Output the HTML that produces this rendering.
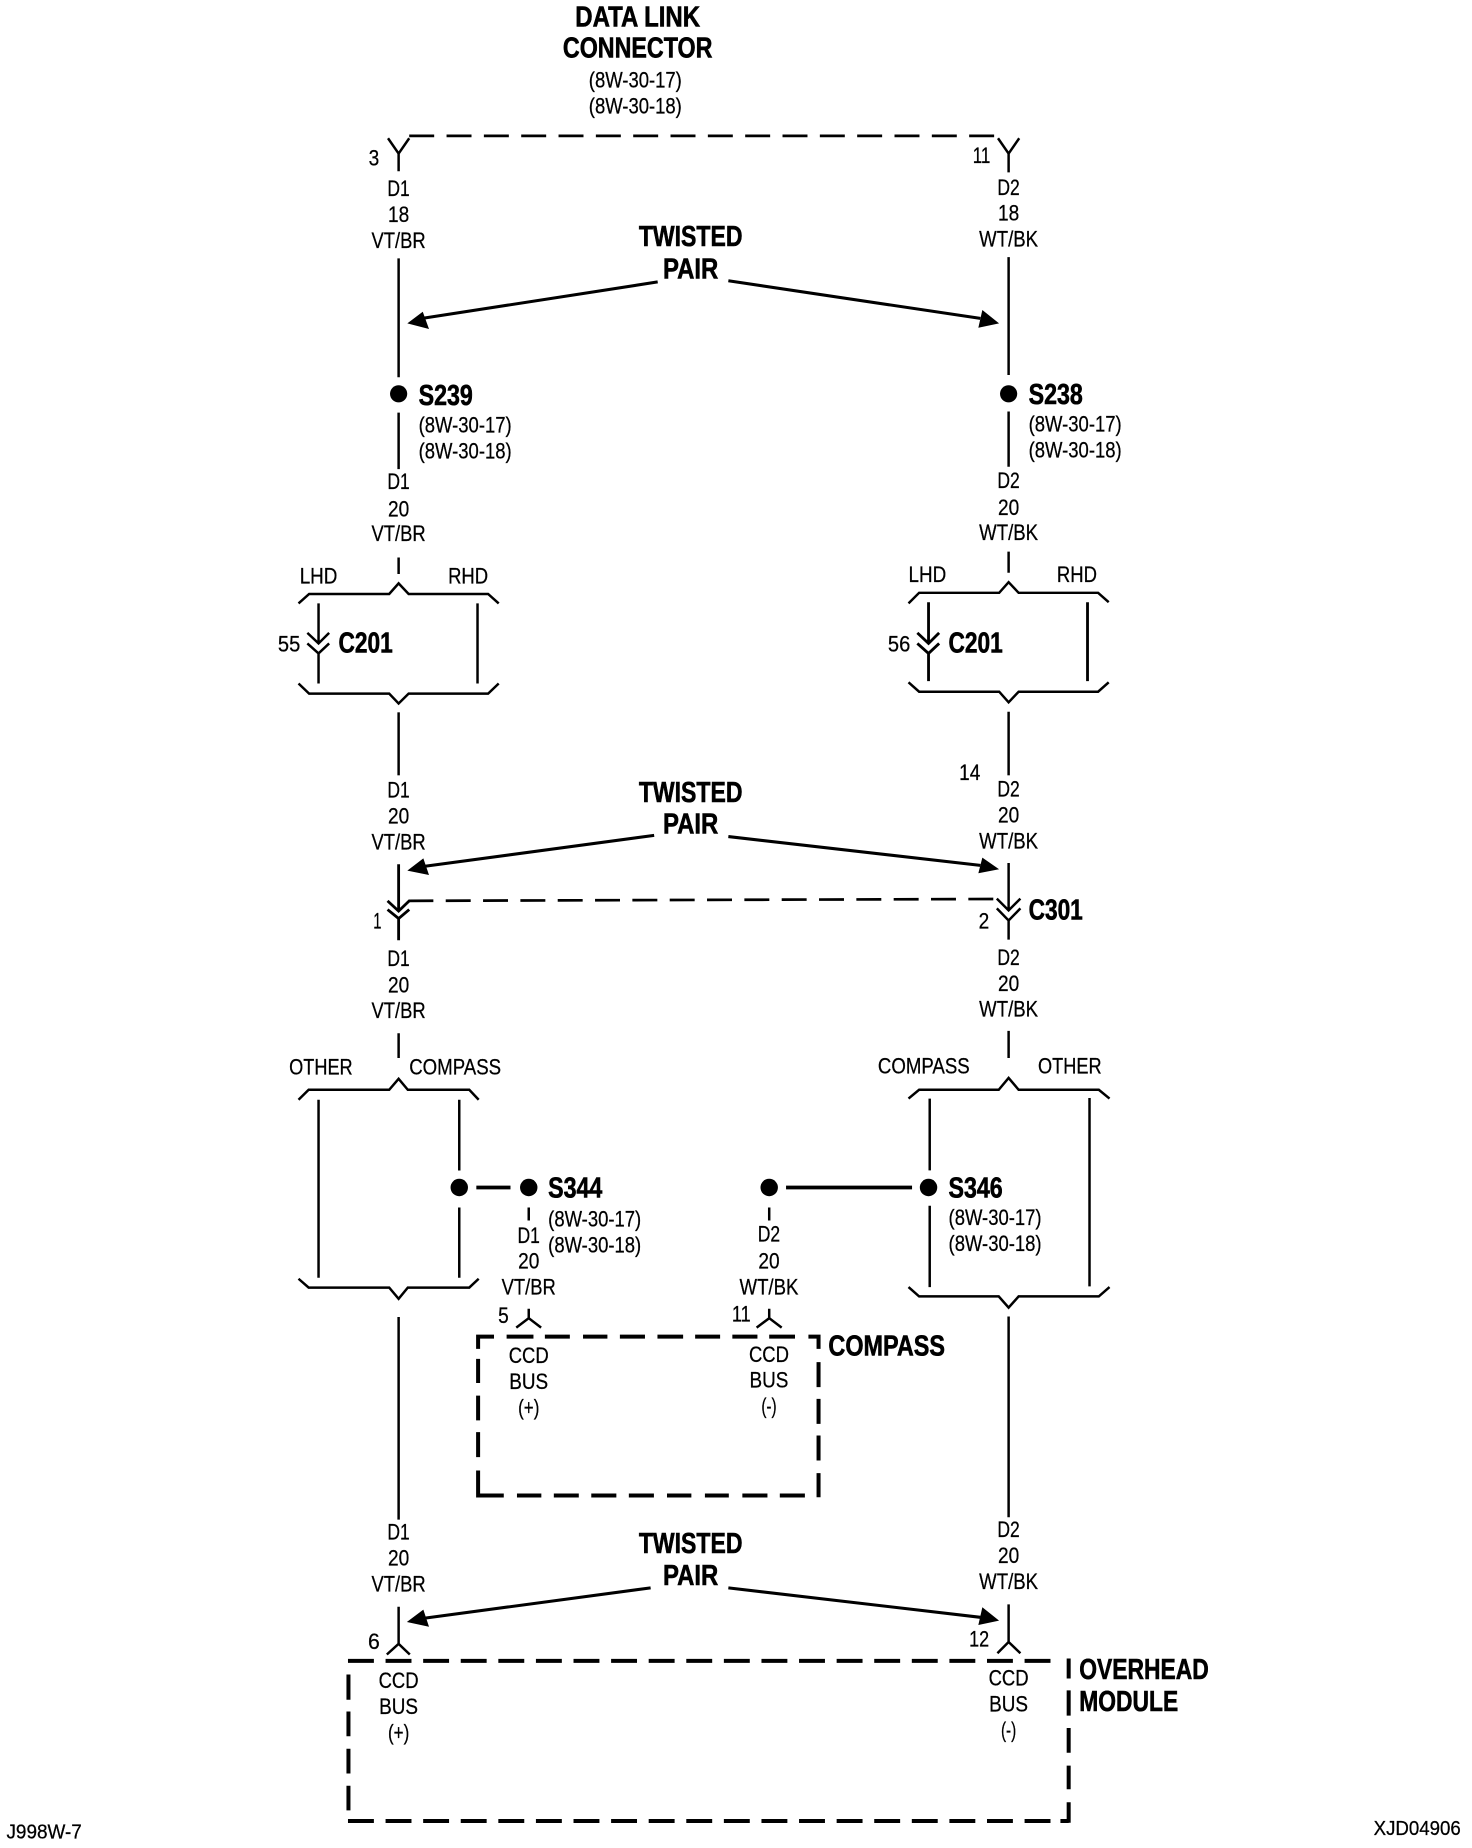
<!DOCTYPE html>
<html><head><meta charset="utf-8"><title>Data link wiring diagram</title>
<style>
html,body{margin:0;padding:0;background:#fff}
svg{display:block}
text{font-family:"Liberation Sans",sans-serif;fill:#000;stroke:#000}
.r{font-size:19px;stroke-width:.22px}
.b{font-size:24px;font-weight:bold;stroke-width:.5px}
.m{text-anchor:middle}
</style></head><body>
<svg xmlns="http://www.w3.org/2000/svg" width="1472" height="1848" viewBox="0 0 1250 1569.3">
<rect width="1250" height="1570" fill="#fff"/>
<g transform="translate(0.5,0.4)">
<!-- wires -->
<g fill="none" stroke="#000" stroke-width="2.1">
<path d="M329 117L338 130L347 117M338 130V145M338 219V320M338 350V398M338 473V487"/>
<path d="M847 117L856 130L865 117M856 130V146M856 218V318M856 349V396M856 468V486"/>
<!-- C201 left -->
<path d="M253 512L262 504H330L338 495L346.5 504H414L423 512"/>
<path d="M253 580L262 588.6H330L338 597L346.5 588.6H414L423 580"/>
<path d="M270 512V546M270 554.5V580M405 512V580M260.5 537L270 546L279 537M260.5 546L270 554.5L279 546"/>
<path d="M338 604.5V658"/>
<!-- C201 right -->
<path d="M771 512L780 503H848L856 494L864.5 503H932L941 511"/>
<path d="M771 579L780 587H848L856 596L864.5 587H932L941 579"/>
<path d="M788 511V546M788 554.5V578M923 511V578M778.5 537L788 546L797 537M778.5 546L788 554.5L797 546" stroke-width="2.4"/>
<path d="M856 604V658"/>
<!-- C301 -->
<path d="M338 733.5V773.3M328.6 764.6L338 773.3L347 764.6M328.6 772L338 779.6L347 772M338 779.6V798" stroke-width="2.4"/>
<path d="M856 732.5V772.7M846 762.7L856 772.7L866 762.7M846 771L856 781.3L866 771M856 781.3V797.5" stroke-width="2.1"/>
<path d="M338 877V898M856 875V898"/>
<!-- Other / compass left -->
<path d="M253 933.5L261.6 925H330L338 915.7L345.8 925H398L406 933.5"/>
<path d="M253 1085.5L261.6 1093H330L338 1102.5L345.8 1093H398L406 1085.5"/>
<path d="M270 933.5V1084.6M389.5 933.5V993.6M389.5 1025V1084.6"/>
<path d="M338 1118V1290M338 1364V1395.5M328 1404.6L338 1395.5L347.5 1404.6"/>
<!-- right -->
<path d="M771 932.5L780 925H847.6L856 915L864.5 925H932.6L941.7 932.5"/>
<path d="M771 1092.6L780 1100.5H847.6L856 1110L864.5 1100.5H932.6L941.7 1092.6"/>
<path d="M789 932.5V993.5M789 1023.5V1092.6M924.7 932V1092"/>
<path d="M856 1117.6V1288M856 1362V1394M846.5 1403.5L856 1394L866 1403.5"/>
<!-- compass inner -->
<path d="M448.5 1025V1036M652.7 1025V1036M448.5 1111V1119M437.9 1127L448.5 1119L459 1127M652.7 1111V1119M642 1127L652.7 1119L663.3 1127"/>
<path d="M404 1008H433M667 1008H774" stroke-width="3.2"/>
<!-- arrows -->
<path d="M558 239L358 270M618 238L832 270M555 709L358 735.5M618 710L832 734.5M552 1348L358 1374M618 1348L832 1373" stroke-width="2.6"/>
<!-- dashed links -->
<path d="M347 115H850" stroke-dasharray="21.2 10.5" stroke-width="2.3"/>
<path d="M346.3 764.6L845 763" stroke-dasharray="21.2 10.5" stroke-width="2.3"/>
</g>
<g fill="#000">
<path d="M345.4 274.2L358.5 264.3L363.8 279ZM847.9 274.2L833.7 262.9L830.3 277.9ZM345.4 738.9L359 728.5L363.8 742.6ZM847.9 737.8L833.7 727.9L830.3 741.2ZM345 1377L359 1366.5L363.8 1381ZM847.9 1375.8L833.7 1364.5L830.3 1379.5Z"/>
<circle cx="338" cy="334" r="7.3"/><circle cx="856" cy="334" r="7.3"/>
<circle cx="389.5" cy="1008" r="7.4"/><circle cx="448.5" cy="1008" r="7.4"/><circle cx="652.7" cy="1008" r="7.4"/><circle cx="788" cy="1008" r="7.4"/>
</g>
<!-- module boxes -->
<g fill="none" stroke="#000" stroke-width="3.4">
<path d="M295 1410H892" stroke-dasharray="22 9.92"/>
<path d="M295 1546H892" stroke-dasharray="22 9.92"/>
<path d="M295.4 1421.6V1443M295.4 1453V1474M295.4 1484.6V1505.6M295.4 1516V1537"/>
<path d="M907 1408V1425M907 1435V1456.5M907 1467V1488M907 1499V1519M907 1530V1547.5M900 1546H907"/>
<!-- compass box -->
<path d="M419 1134.6H405.5V1145M405.5 1153.5V1174M405.5 1184.7V1205.8M405.5 1215.7V1237M405.5 1248.3V1269.6H427.3M438.5 1269.6H459.2M469.8 1269.6H491M501.6 1269.6H522.9M533.5 1269.6H554.8M565.9 1269.6H586.6M598.1 1269.6H618.4M629.9 1269.6H651.2M661.7 1269.6H683"/>
<path d="M429.7 1134.6H452.5M462.2 1134.6H483.4M494.6 1134.6H515.3M525.9 1134.6H547.2M557.8 1134.6H579.6M589.8 1134.6H611M621.4 1134.6H642.7M652.7 1134.6H674.6M686 1134.6H694.6V1145M694.6 1156.3V1177.5M694.6 1187.5V1208.7M694.6 1218.6V1239.8M694.6 1250.6V1271"/>
</g>
<!-- bold labels -->
<text class="b m" x="541" y="22" textLength="106" lengthAdjust="spacingAndGlyphs">DATA LINK</text>
<text class="b m" x="541" y="48.5" textLength="127" lengthAdjust="spacingAndGlyphs">CONNECTOR</text>
<text class="b m" x="586" y="208.5" textLength="88" lengthAdjust="spacingAndGlyphs">TWISTED</text>
<text class="b m" x="586" y="236" textLength="47" lengthAdjust="spacingAndGlyphs">PAIR</text>
<text class="b m" x="586" y="680.5" textLength="88" lengthAdjust="spacingAndGlyphs">TWISTED</text>
<text class="b m" x="586" y="707.5" textLength="47" lengthAdjust="spacingAndGlyphs">PAIR</text>
<text class="b m" x="586" y="1318.5" textLength="88" lengthAdjust="spacingAndGlyphs">TWISTED</text>
<text class="b m" x="586" y="1345.5" textLength="47" lengthAdjust="spacingAndGlyphs">PAIR</text>
<text class="b" x="355" y="343.5" textLength="46" lengthAdjust="spacingAndGlyphs">S239</text>
<text class="b" x="873" y="342.5" textLength="46" lengthAdjust="spacingAndGlyphs">S238</text>
<text class="b" x="287" y="553.5" textLength="46" lengthAdjust="spacingAndGlyphs">C201</text>
<text class="b" x="805" y="553.5" textLength="46" lengthAdjust="spacingAndGlyphs">C201</text>
<text class="b" x="873" y="780.5" textLength="46" lengthAdjust="spacingAndGlyphs">C301</text>
<text class="b" x="465" y="1016.5" textLength="46" lengthAdjust="spacingAndGlyphs">S344</text>
<text class="b" x="805" y="1016.5" textLength="46" lengthAdjust="spacingAndGlyphs">S346</text>
<text class="b" x="703" y="1150.5" textLength="99" lengthAdjust="spacingAndGlyphs">COMPASS</text>
<text class="b" x="916" y="1425.5" textLength="110" lengthAdjust="spacingAndGlyphs">OVERHEAD</text>
<text class="b" x="916" y="1452.5" textLength="84" lengthAdjust="spacingAndGlyphs">MODULE</text>
<!-- refs -->
<text class="r m" x="539" y="74" textLength="79" lengthAdjust="spacingAndGlyphs">(8W-30-17)</text>
<text class="r m" x="539" y="96" textLength="79" lengthAdjust="spacingAndGlyphs">(8W-30-18)</text>
<text class="r" x="355" y="367" textLength="79" lengthAdjust="spacingAndGlyphs">(8W-30-17)</text>
<text class="r" x="355" y="389" textLength="79" lengthAdjust="spacingAndGlyphs">(8W-30-18)</text>
<text class="r" x="873" y="366" textLength="79" lengthAdjust="spacingAndGlyphs">(8W-30-17)</text>
<text class="r" x="873" y="388" textLength="79" lengthAdjust="spacingAndGlyphs">(8W-30-18)</text>
<text class="r" x="465" y="1041" textLength="79" lengthAdjust="spacingAndGlyphs">(8W-30-17)</text>
<text class="r" x="465" y="1063" textLength="79" lengthAdjust="spacingAndGlyphs">(8W-30-18)</text>
<text class="r" x="805" y="1040" textLength="79" lengthAdjust="spacingAndGlyphs">(8W-30-17)</text>
<text class="r" x="805" y="1062" textLength="79" lengthAdjust="spacingAndGlyphs">(8W-30-18)</text>
<!-- left column wire labels -->
<text class="r m" x="338" y="166" textLength="19" lengthAdjust="spacingAndGlyphs">D1</text>
<text class="r m" x="338" y="188" textLength="18" lengthAdjust="spacingAndGlyphs">18</text>
<text class="r m" x="338" y="210" textLength="46" lengthAdjust="spacingAndGlyphs">VT/BR</text>
<text class="r m" x="338" y="415" textLength="19" lengthAdjust="spacingAndGlyphs">D1</text>
<text class="r m" x="338" y="438" textLength="18" lengthAdjust="spacingAndGlyphs">20</text>
<text class="r m" x="338" y="459" textLength="46" lengthAdjust="spacingAndGlyphs">VT/BR</text>
<text class="r m" x="338" y="677" textLength="19" lengthAdjust="spacingAndGlyphs">D1</text>
<text class="r m" x="338" y="699" textLength="18" lengthAdjust="spacingAndGlyphs">20</text>
<text class="r m" x="338" y="721" textLength="46" lengthAdjust="spacingAndGlyphs">VT/BR</text>
<text class="r m" x="338" y="820" textLength="19" lengthAdjust="spacingAndGlyphs">D1</text>
<text class="r m" x="338" y="842.5" textLength="18" lengthAdjust="spacingAndGlyphs">20</text>
<text class="r m" x="338" y="864" textLength="46" lengthAdjust="spacingAndGlyphs">VT/BR</text>
<text class="r m" x="338" y="1307" textLength="19" lengthAdjust="spacingAndGlyphs">D1</text>
<text class="r m" x="338" y="1329" textLength="18" lengthAdjust="spacingAndGlyphs">20</text>
<text class="r m" x="338" y="1351" textLength="46" lengthAdjust="spacingAndGlyphs">VT/BR</text>
<!-- right column wire labels -->
<text class="r m" x="856" y="165" textLength="19" lengthAdjust="spacingAndGlyphs">D2</text>
<text class="r m" x="856" y="187" textLength="18" lengthAdjust="spacingAndGlyphs">18</text>
<text class="r m" x="856" y="209" textLength="50" lengthAdjust="spacingAndGlyphs">WT/BK</text>
<text class="r m" x="856" y="414" textLength="19" lengthAdjust="spacingAndGlyphs">D2</text>
<text class="r m" x="856" y="437" textLength="18" lengthAdjust="spacingAndGlyphs">20</text>
<text class="r m" x="856" y="458" textLength="50" lengthAdjust="spacingAndGlyphs">WT/BK</text>
<text class="r m" x="856" y="676" textLength="19" lengthAdjust="spacingAndGlyphs">D2</text>
<text class="r m" x="856" y="698" textLength="18" lengthAdjust="spacingAndGlyphs">20</text>
<text class="r m" x="856" y="720" textLength="50" lengthAdjust="spacingAndGlyphs">WT/BK</text>
<text class="r m" x="856" y="819" textLength="19" lengthAdjust="spacingAndGlyphs">D2</text>
<text class="r m" x="856" y="841" textLength="18" lengthAdjust="spacingAndGlyphs">20</text>
<text class="r m" x="856" y="863" textLength="50" lengthAdjust="spacingAndGlyphs">WT/BK</text>
<text class="r m" x="856" y="1305" textLength="19" lengthAdjust="spacingAndGlyphs">D2</text>
<text class="r m" x="856" y="1327" textLength="18" lengthAdjust="spacingAndGlyphs">20</text>
<text class="r m" x="856" y="1349" textLength="50" lengthAdjust="spacingAndGlyphs">WT/BK</text>
<!-- compass wire labels -->
<text class="r m" x="448.5" y="1055" textLength="19" lengthAdjust="spacingAndGlyphs">D1</text>
<text class="r m" x="448.5" y="1077" textLength="18" lengthAdjust="spacingAndGlyphs">20</text>
<text class="r m" x="448.5" y="1099" textLength="46" lengthAdjust="spacingAndGlyphs">VT/BR</text>
<text class="r m" x="652.5" y="1054" textLength="19" lengthAdjust="spacingAndGlyphs">D2</text>
<text class="r m" x="652.5" y="1077" textLength="18" lengthAdjust="spacingAndGlyphs">20</text>
<text class="r m" x="652.5" y="1099" textLength="50" lengthAdjust="spacingAndGlyphs">WT/BK</text>
<!-- pin numbers -->
<text class="r m" x="317" y="140" textLength="9" lengthAdjust="spacingAndGlyphs">3</text>
<text class="r m" x="833" y="138" textLength="15" lengthAdjust="spacingAndGlyphs">11</text>
<text class="r m" x="245" y="553" textLength="19" lengthAdjust="spacingAndGlyphs">55</text>
<text class="r m" x="763" y="553" textLength="19" lengthAdjust="spacingAndGlyphs">56</text>
<text class="r m" x="823" y="662" textLength="18" lengthAdjust="spacingAndGlyphs">14</text>
<text class="r m" x="320" y="788" textLength="7" lengthAdjust="spacingAndGlyphs">1</text>
<text class="r m" x="835" y="788" textLength="9" lengthAdjust="spacingAndGlyphs">2</text>
<text class="r m" x="427" y="1123" textLength="9" lengthAdjust="spacingAndGlyphs">5</text>
<text class="r m" x="629" y="1122" textLength="16" lengthAdjust="spacingAndGlyphs">11</text>
<text class="r m" x="317" y="1400" textLength="10" lengthAdjust="spacingAndGlyphs">6</text>
<text class="r m" x="831" y="1398" textLength="17" lengthAdjust="spacingAndGlyphs">12</text>
<!-- option labels -->
<text class="r m" x="270" y="495" textLength="32" lengthAdjust="spacingAndGlyphs">LHD</text>
<text class="r m" x="397" y="495" textLength="34" lengthAdjust="spacingAndGlyphs">RHD</text>
<text class="r m" x="787" y="494" textLength="32" lengthAdjust="spacingAndGlyphs">LHD</text>
<text class="r m" x="914" y="494" textLength="34" lengthAdjust="spacingAndGlyphs">RHD</text>
<text class="r m" x="272" y="912" textLength="54" lengthAdjust="spacingAndGlyphs">OTHER</text>
<text class="r m" x="386" y="912" textLength="78" lengthAdjust="spacingAndGlyphs">COMPASS</text>
<text class="r m" x="784" y="911" textLength="78" lengthAdjust="spacingAndGlyphs">COMPASS</text>
<text class="r m" x="908" y="911" textLength="54" lengthAdjust="spacingAndGlyphs">OTHER</text>
<!-- CCD BUS -->
<text class="r m" x="448.5" y="1157" textLength="34" lengthAdjust="spacingAndGlyphs">CCD</text>
<text class="r m" x="448.5" y="1179" textLength="33" lengthAdjust="spacingAndGlyphs">BUS</text>
<text class="r m" x="448.5" y="1201" textLength="18" lengthAdjust="spacingAndGlyphs">(+)</text>
<text class="r m" x="652.5" y="1156" textLength="34" lengthAdjust="spacingAndGlyphs">CCD</text>
<text class="r m" x="652.5" y="1178" textLength="33" lengthAdjust="spacingAndGlyphs">BUS</text>
<text class="r m" x="652.5" y="1200" textLength="13" lengthAdjust="spacingAndGlyphs">(-)</text>
<text class="r m" x="338" y="1433" textLength="34" lengthAdjust="spacingAndGlyphs">CCD</text>
<text class="r m" x="338" y="1455" textLength="33" lengthAdjust="spacingAndGlyphs">BUS</text>
<text class="r m" x="338" y="1477" textLength="18" lengthAdjust="spacingAndGlyphs">(+)</text>
<text class="r m" x="856" y="1431" textLength="34" lengthAdjust="spacingAndGlyphs">CCD</text>
<text class="r m" x="856" y="1453" textLength="33" lengthAdjust="spacingAndGlyphs">BUS</text>
<text class="r m" x="856" y="1475" textLength="13" lengthAdjust="spacingAndGlyphs">(-)</text>
<!-- footer -->
<text class="r" x="5" y="1561" textLength="64" lengthAdjust="spacingAndGlyphs" style="font-size:17px">J998W-7</text>
<text class="r" x="1166" y="1558" textLength="74" lengthAdjust="spacingAndGlyphs" style="font-size:17px">XJD04906</text>
</g>
</svg>
</body></html>
